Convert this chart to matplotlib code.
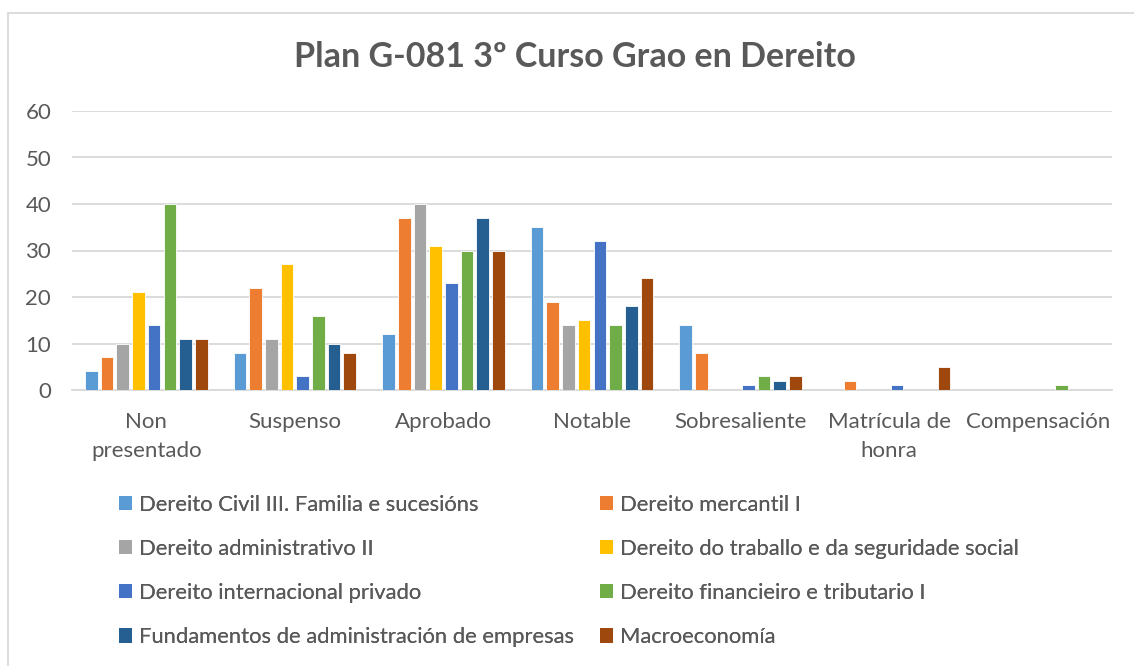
import matplotlib
matplotlib.use("Agg")
import matplotlib.pyplot as plt
from matplotlib.patches import Rectangle, Patch
import numpy as np

plt.rcParams['font.family'] = ['Lato', 'DejaVu Sans']

categories = ["Non\npresentado", "Suspenso", "Aprobado", "Notable",
              "Sobresaliente", "Matrícula de\nhonra", "Compensación"]
series_names = [
    "Dereito Civil III. Familia e sucesións",
    "Dereito mercantil I",
    "Dereito administrativo II",
    "Dereito do traballo e da seguridade social",
    "Dereito internacional privado",
    "Dereito financieiro e tributario I",
    "Fundamentos de administración de empresas",
    "Macroeconomía",
]
civil_iii = [4, 8, 12, 35, 14, 0, 0]
mercantil_i = [7, 22, 37, 19, 8, 2, 0]
administrativo_ii = [10, 11, 40, 14, 0, 0, 0]
traballo = [21, 27, 31, 15, 0, 0, 0]
internacional_privado = [14, 3, 23, 32, 1, 1, 0]
financieiro = [40, 16, 30, 14, 3, 0, 1]
fundamentos = [11, 10, 37, 18, 2, 0, 0]
macroeconomia = [11, 8, 30, 24, 3, 5, 0]
series_values = [civil_iii, mercantil_i, administrativo_ii, traballo,
                 internacional_privado, financieiro, fundamentos, macroeconomia]
colors = ["#5B9BD5", "#ED7D31", "#A5A5A5", "#FFC000",
          "#4472C4", "#70AD47", "#255E91", "#9E480E"]
yticks = [0, 10, 20, 30, 40, 50, 60]

W, H = 1134, 666
fig = plt.figure(figsize=(W / 100, H / 100), dpi=100)
ax = fig.add_axes([72 / W, 1 - 390 / H, (1112 - 72) / W, (390 - 111) / H])

text_color = "#595959"
grid_color = "#D9D9D9"
x = np.arange(len(categories))
pitch = 0.1056
bw = 0.085
handles = []
for i, (name, vals, c) in enumerate(zip(series_names, series_values, colors)):
    ax.bar(x + (i - 3.5) * pitch, vals, width=bw, color=c,
           edgecolor="white", linewidth=0.6, zorder=3)
    handles.append(Patch(facecolor=c, edgecolor="none", label=name))

ax.set_xlim(-0.5, len(categories) - 0.5)
ax.set_ylim(0, 60)
ax.set_yticks(yticks)
ax.set_xticks(x)
ax.set_xticklabels(categories, fontsize=16, color=text_color, linespacing=1.55)
ax.tick_params(axis='y', labelsize=16, labelcolor=text_color, length=0, pad=15)
ax.tick_params(axis='x', length=0, pad=16)
ax.grid(axis='y', color=grid_color, linewidth=1.3, zorder=0)
for s in ["top", "right", "left"]:
    ax.spines[s].set_visible(False)
ax.spines["bottom"].set_color(grid_color)
ax.spines["bottom"].set_linewidth(1.3)

fig.text(575 / W, 1 - 57 / H, "Plan G-081 3º Curso Grao en Dereito",
         ha="center", va="center", fontsize=24.5, fontweight="bold", color=text_color)

left_h = [handles[k] for k in (0, 2, 4, 6)]
right_h = [handles[k] for k in (1, 3, 5, 7)]
for hs, xpos in ((left_h, 110), (right_h, 591)):
    leg = fig.legend(handles=hs, loc="upper left",
                     bbox_to_anchor=(xpos / W, 1 - 486 / H),
                     frameon=False, fontsize=15.8, labelcolor=text_color,
                     handlelength=0.62, handleheight=0.62, handletextpad=0.3,
                     labelspacing=1.1, borderaxespad=0)
    fig.add_artist(leg)

fig.add_artist(Rectangle((8 / W, -0.05), 1.2, 1 - 13 / H + 0.05,
                         transform=fig.transFigure, fill=False,
                         edgecolor=grid_color, linewidth=1.3))

fig.savefig("out.png", dpi=100)
